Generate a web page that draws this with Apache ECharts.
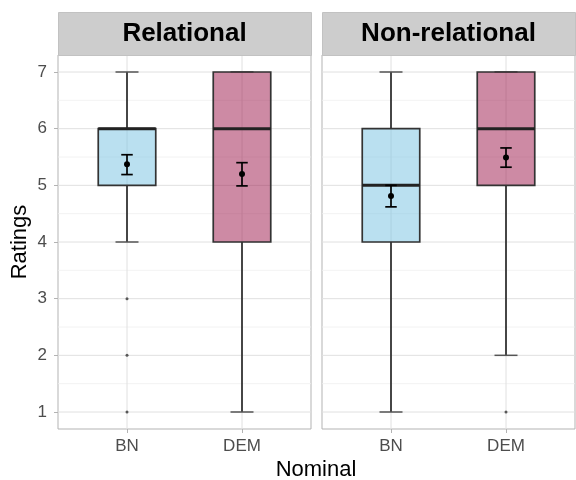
<!DOCTYPE html>
<html><head><meta charset="utf-8">
<script src="https://cdn.jsdelivr.net/npm/echarts@6/dist/echarts.min.js"></script>
<style>html,body{margin:0;padding:0;background:#fff}#c{width:576px;height:480px}</style>
</head><body><div id="c"></div>
<script>
// ---- data ----
const panels = ['Relational', 'Non-relational'];
const categories = ['BN', 'DEM'];
const yTicks = [1, 2, 3, 4, 5, 6, 7];
const yMinor = [1.5, 2.5, 3.5, 4.5, 5.5, 6.5];
// [whiskerLow, Q1, median, Q3, whiskerHigh] for BN, DEM
const boxRelational = [[4, 5, 6, 6, 7], [1, 4, 6, 7, 7]];
const boxNonRelational = [[1, 4, 5, 6, 7], [2, 5, 6, 7, 7]];
const meanRelational = [5.37, 5.20];
const seLowRelational = [5.19, 4.99];
const seHighRelational = [5.54, 5.40];
const meanNonRelational = [4.81, 5.49];
const seLowNonRelational = [4.62, 5.32];
const seHighNonRelational = [5.00, 5.66];
const outliersRelational = [[3, 2, 1], []];
const outliersNonRelational = [[], [1]];

// ---- styling ----
const FONT = "'Liberation Sans', Arial, sans-serif";
const fills = ['rgba(117,193,225,0.5)', 'rgba(155,21,73,0.5)'];
const dark = '#333333';

const panelData = [
  { box: boxRelational, mean: meanRelational, lo: seLowRelational, hi: seHighRelational, out: outliersRelational },
  { box: boxNonRelational, mean: meanNonRelational, lo: seLowNonRelational, hi: seHighNonRelational, out: outliersNonRelational }
];

const gridPos = [{ left: 58, top: 55, width: 253, height: 374 }, { left: 322, top: 55, width: 253, height: 374 }];

function renderGridLines(params, api) {
  const cs = params.coordSys;
  const children = [];
  yMinor.forEach(v => {
    const y = api.coord([1, v])[1];
    children.push({ type: 'line', shape: { x1: cs.x, y1: y, x2: cs.x + cs.width, y2: y }, style: { stroke: '#efefef', lineWidth: 0.8 } });
  });
  yTicks.forEach(v => {
    const y = api.coord([1, v])[1];
    children.push({ type: 'line', shape: { x1: cs.x, y1: y, x2: cs.x + cs.width, y2: y }, style: { stroke: '#e0e0e0', lineWidth: 1 } });
  });
  categories.forEach((c, i) => {
    const x = api.coord([i + 1, 1])[0];
    children.push({ type: 'line', shape: { x1: x, y1: cs.y, x2: x, y2: cs.y + cs.height }, style: { stroke: '#e0e0e0', lineWidth: 1 } });
  });
  return { type: 'group', children };
}

function renderBox(params, api) {
  const x = api.value(0);
  const lo = api.value(1), q1 = api.value(2), med = api.value(3), q3 = api.value(4), hi = api.value(5);
  const ci = api.value(6);
  const c = v => api.coord([x, v]);
  const L = api.coord([x - 0.25, q3]);
  const R = api.coord([x + 0.25, q1]);
  const capL = api.coord([x - 0.1, lo])[0];
  const capR = api.coord([x + 0.1, lo])[0];
  const cx = c(med)[0];
  const ls = { stroke: dark, lineWidth: 1.8 };
  const ch = [];
  ch.push({ type: 'line', shape: { x1: cx, y1: c(q3)[1], x2: cx, y2: c(hi)[1] }, style: ls });
  ch.push({ type: 'line', shape: { x1: cx, y1: c(lo)[1], x2: cx, y2: c(q1)[1] }, style: ls });
  ch.push({ type: 'line', shape: { x1: capL, y1: c(hi)[1], x2: capR, y2: c(hi)[1] }, style: { stroke: '#555', lineWidth: 1.5 } });
  ch.push({ type: 'line', shape: { x1: capL, y1: c(lo)[1], x2: capR, y2: c(lo)[1] }, style: { stroke: '#555', lineWidth: 1.5 } });
  ch.push({ type: 'rect', shape: { x: L[0], y: L[1], width: R[0] - L[0], height: R[1] - L[1] }, style: { fill: fills[ci], stroke: dark, lineWidth: 1.7 } });
  const my = c(med)[1];
  ch.push({ type: 'line', shape: { x1: L[0], y1: my, x2: R[0], y2: my }, style: { stroke: '#222', lineWidth: 3 } });
  return { type: 'group', children: ch };
}

function renderErr(params, api) {
  const x = api.value(0);
  const m = api.value(1), lo = api.value(2), hi = api.value(3);
  const pm = api.coord([x, m]);
  const pl = api.coord([x, lo]);
  const ph = api.coord([x, hi]);
  const a = api.coord([x - 0.05, m])[0], b = api.coord([x + 0.05, m])[0];
  const ls = { stroke: '#000', lineWidth: 1.7 };
  return {
    type: 'group', children: [
      { type: 'line', shape: { x1: pm[0], y1: pl[1], x2: pm[0], y2: ph[1] }, style: ls },
      { type: 'line', shape: { x1: a, y1: pl[1], x2: b, y2: pl[1] }, style: ls },
      { type: 'line', shape: { x1: a, y1: ph[1], x2: b, y2: ph[1] }, style: ls },
      { type: 'circle', shape: { cx: pm[0], cy: pm[1], r: 3 }, style: { fill: '#000' } }
    ]
  };
}

const grids = [], xAxes = [], yAxes = [], series = [], graphics = [];
panels.forEach((p, pi) => {
  const g = gridPos[pi];
  grids.push({ left: g.left, top: g.top, width: g.width, height: g.height, show: true, borderColor: '#b3b3b3', borderWidth: 1, backgroundColor: '#fff', containLabel: false });
  xAxes.push({
    type: 'value', gridIndex: pi, min: 0.4, max: 2.6,
    axisLine: { show: false }, splitLine: { show: false },
    axisTick: { show: true, customValues: categories.map((c, i) => i + 1), length: 4, lineStyle: { color: '#b3b3b3' } },
    axisLabel: { show: true, customValues: categories.map((c, i) => i + 1), formatter: v => categories[Math.round(v) - 1] || '', color: '#4d4d4d', fontSize: 17, fontFamily: FONT, margin: 9 }
  });
  yAxes.push({
    type: 'value', gridIndex: pi, min: 0.7, max: 7.3,
    axisLine: { show: false }, splitLine: { show: false },
    axisTick: { show: pi === 0, customValues: yTicks, length: 4, lineStyle: { color: '#b3b3b3' } },
    axisLabel: { show: pi === 0, customValues: yTicks, color: '#4d4d4d', fontSize: 17, fontFamily: FONT, margin: 11 }
  });
  const d = panelData[pi];
  series.push({ type: 'custom', xAxisIndex: pi, yAxisIndex: pi, z: 1, silent: true, clip: false, data: [[1, 1]], renderItem: renderGridLines });
  series.push({
    type: 'custom', xAxisIndex: pi, yAxisIndex: pi, z: 2, silent: true,
    encode: { x: 0, y: [1, 2, 3, 4, 5] },
    data: d.box.map((b, i) => [i + 1, b[0], b[1], b[2], b[3], b[4], i]),
    renderItem: renderBox
  });
  const outs = [];
  d.out.forEach((arr, i) => arr.forEach(v => outs.push([i + 1, v])));
  series.push({ type: 'scatter', xAxisIndex: pi, yAxisIndex: pi, z: 3, silent: true, symbolSize: 3, itemStyle: { color: '#333' }, data: outs });
  series.push({
    type: 'custom', xAxisIndex: pi, yAxisIndex: pi, z: 4, silent: true,
    encode: { x: 0, y: [1, 2, 3] },
    data: d.mean.map((m, i) => [i + 1, m, d.lo[i], d.hi[i]]),
    renderItem: renderErr
  });
  graphics.push({ type: 'rect', left: g.left, top: 12, shape: { width: g.width, height: 43 }, style: { fill: '#cdcdcd', stroke: '#c2c2c2', lineWidth: 1 }, z: 10 });
  graphics.push({ type: 'text', x: g.left + g.width / 2, y: 34, style: { text: p, font: "bold 26px " + FONT, fill: '#000', textAlign: 'center', textVerticalAlign: 'middle' }, z: 11 });
});
graphics.push({ type: 'text', x: 20, y: 242, rotation: Math.PI / 2, style: { text: 'Ratings', font: "22px " + FONT, fill: '#000', textAlign: 'center', textVerticalAlign: 'middle' }, z: 11 });
graphics.push({ type: 'text', x: 316, y: 470, style: { text: 'Nominal', font: "22px " + FONT, fill: '#000', textAlign: 'center', textVerticalAlign: 'middle' }, z: 11 });

const chart = echarts.init(document.getElementById('c'), null, { renderer: 'canvas' });
chart.setOption({
  animation: false,
  backgroundColor: '#fff',
  grid: grids, xAxis: xAxes, yAxis: yAxes, series: series, graphic: graphics
});
</script></body></html>
